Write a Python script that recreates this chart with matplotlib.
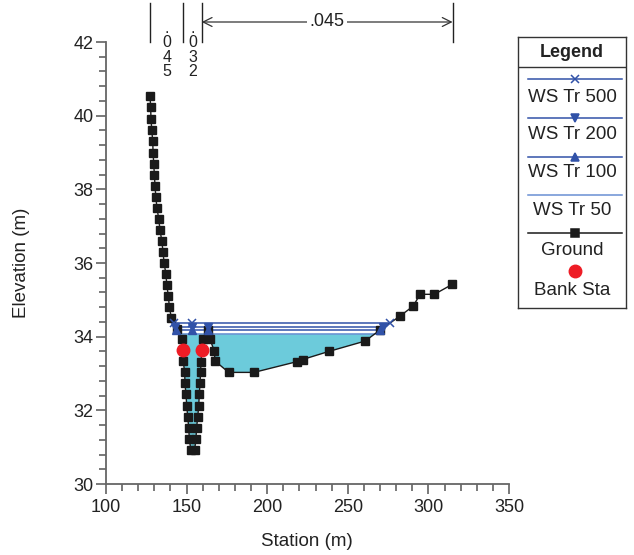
import numpy as np
import matplotlib
matplotlib.use('Agg')
import matplotlib.pyplot as plt
from matplotlib.ticker import MultipleLocator
import matplotlib.transforms as mtransforms

plt.rcParams['font.family'] = ['Liberation Sans', 'DejaVu Sans']

# ground profile (station m, elevation m)
ground_sta = [127.3, 127.7, 127.9, 128.4, 129.0, 129.2, 129.6, 130.0, 130.4, 130.9,
              131.6, 132.7, 133.5, 134.6, 135.4, 136.0, 137.2, 137.7, 138.7, 139.3,
              140.6, 143.9, 147.0, 147.9, 148.8, 149.0, 149.6, 150.1, 150.7, 151.3,
              151.7, 152.6, 155.0, 155.8, 156.2, 156.9, 157.5, 157.9, 158.3, 158.7,
              158.9, 160.4, 163.1, 164.5, 167.2, 167.6, 176.1, 191.8, 218.3, 222.0,
              238.3, 260.7, 270.0, 282.4, 290.6, 294.8, 303.7, 314.8]
ground_elev = [40.54, 40.23, 39.92, 39.60, 39.30, 39.00, 38.70, 38.40, 38.10, 37.80,
               37.50, 37.20, 36.90, 36.60, 36.30, 36.00, 35.70, 35.40, 35.10, 34.80,
               34.50, 34.20, 33.93, 33.34, 33.03, 32.73, 32.44, 32.12, 31.82, 31.53,
               31.22, 30.93, 30.93, 31.22, 31.53, 31.82, 32.12, 32.44, 32.73, 33.03,
               33.32, 33.93, 34.18, 33.93, 33.61, 33.34, 33.03, 33.03, 33.32, 33.38,
               33.60, 33.88, 34.18, 34.56, 34.83, 35.15, 35.15, 35.42]

# bank stations
bank_sta = [147.9, 159.5]
bank_elev = [33.63, 33.63]

# water surfaces
ws500 = 34.37
ws200 = 34.27
ws100 = 34.19
ws50 = 34.08
ws500_mark_sta = [142.0, 153.4, 276.0]
ws200_mark_sta = [142.6, 153.4, 163.1, 271.6]
ws100_mark_sta = [143.7, 153.4, 163.1, 270.1]

# manning n regions
n_bounds = [127.6, 147.9, 159.4, 315.0]
n_values = ['.045', '.032', '.045']

sta = np.array(ground_sta)
elev = np.array(ground_elev)


def ws_extent(ws):
    # first / last crossing of the water surface with the ground
    i = np.argmax(elev < ws)
    j = len(elev) - 1 - np.argmax(elev[::-1] < ws)
    x0 = np.interp(ws, [elev[i], elev[i - 1]], [sta[i], sta[i - 1]])
    x1 = np.interp(ws, [elev[j], elev[j + 1]], [sta[j], sta[j + 1]])
    return x0, x1


fig = plt.figure(figsize=(6.34, 5.55), dpi=100)
ax = fig.add_axes([106 / 634, 1 - 484 / 555, 403 / 634, 442 / 555])

blue = '#3152a8'
blue_light = '#6a8fd3'
cyan = '#6ccbdb'
txt = '#222222'

# fill under lowest water surface
x_fine = np.linspace(sta[0], sta[-1], 4000)
g_fine = np.interp(x_fine, sta, elev)
ax.fill_between(x_fine, g_fine, ws50, where=g_fine < ws50, color=cyan, lw=0, zorder=1)

for ws, col in [(ws500, blue), (ws200, blue), (ws100, blue), (ws50, blue_light)]:
    x0, x1 = ws_extent(ws)
    ax.plot([x0, x1], [ws, ws], color=col, lw=1.1, zorder=2)

ax.plot(ws500_mark_sta, [ws500] * len(ws500_mark_sta), ls='none', marker='x',
        color=blue, ms=6, mew=1.1, zorder=4)
ax.plot(ws200_mark_sta, [ws200] * len(ws200_mark_sta), ls='none', marker='v',
        color=blue, ms=6, zorder=4)
ax.plot(ws100_mark_sta, [ws100] * len(ws100_mark_sta), ls='none', marker='^',
        color=blue, ms=6, zorder=4)

ax.plot(sta, elev, color='#1a1a1a', lw=1, marker='s', ms=5.5, zorder=3)
ax.plot(bank_sta, bank_elev, ls='none', marker='o', color='#ee1c25', ms=9, zorder=5)

ax.set_xlim(100, 350)
ax.set_ylim(30, 42)
ax.xaxis.set_major_locator(MultipleLocator(50))
ax.xaxis.set_minor_locator(MultipleLocator(10))
ax.yaxis.set_major_locator(MultipleLocator(2))
ax.yaxis.set_minor_locator(MultipleLocator(0.4))
ax.tick_params(which='major', direction='out', length=7, width=1.1, color='#555555',
               labelsize=13, labelcolor=txt)
ax.tick_params(axis='y', which='major', pad=2)
ax.tick_params(axis='x', which='major', pad=4)
ax.tick_params(which='minor', direction='out', length=5, width=1.1, color='#555555')
for s in ['top', 'right']:
    ax.spines[s].set_visible(False)
for s in ['left', 'bottom']:
    ax.spines[s].set_color('#666666')
    ax.spines[s].set_linewidth(1.3)

fig.text(22 / 634, 1 - 263 / 555, 'Elevation (m)', rotation=90, ha='center',
         va='center', fontsize=13.5, color=txt)
fig.text(307 / 634, 1 - 542 / 555, 'Station (m)', ha='center', va='center',
         fontsize=13.5, color=txt)

# manning n annotations above the plot
trans = mtransforms.blended_transform_factory(ax.transData, ax.transAxes)


def ay(py):
    return (484 - py) / 442


for b in n_bounds:
    ax.plot([b, b], [1.0, ay(3)], transform=trans, color=txt, lw=1, clip_on=False)
for k in range(2):
    mid = (n_bounds[k] + n_bounds[k + 1]) / 2
    ax.text(mid, ay(21), '\n'.join(n_values[k]), transform=trans, ha='center', va='top',
            fontsize=11.5, linespacing=0.95, color=txt, clip_on=False)
ax.annotate('', xy=(n_bounds[2], ay(22)), xytext=(n_bounds[3], ay(22)),
            xycoords=trans, textcoords=trans,
            arrowprops=dict(arrowstyle='<->', color='#333333', lw=0.9,
                            shrinkA=0, shrinkB=0, mutation_scale=16))
ax.text((n_bounds[2] + n_bounds[3]) / 2, ay(22), n_values[2], transform=trans,
        ha='center', va='center', fontsize=13, color=txt,
        bbox=dict(facecolor='white', edgecolor='none', pad=2))

# legend box
lg = fig.add_axes([518.3 / 634, 1 - 308 / 555, 107.4 / 634, 271.3 / 555])
lg.set_xlim(518.3, 625.7)
lg.set_ylim(308, 36.7)
lg.set_xticks([])
lg.set_yticks([])
for s in lg.spines.values():
    s.set_color('#333333')
    s.set_linewidth(1)
cx = 572
lg.text(cx, 52, 'Legend', ha='center', va='center', fontsize=13, fontweight='bold',
        color=txt)
lg.plot([518.3, 625.7], [67.3, 67.3], color='#333333', lw=1)

entries = [('WS Tr 500', blue, 'x', 79.3, 97.3),
           ('WS Tr 200', blue, 'v', 117.7, 134.3),
           ('WS Tr 100', blue, '^', 156.7, 172.3),
           ('WS Tr 50', blue_light, None, 195.0, 210.7),
           ('Ground', '#1a1a1a', 's', 233.3, 250.0)]
for label, col, mk, ly, ty in entries:
    lg.plot([528, 622], [ly, ly], color=col, lw=1.1)
    if mk is not None:
        lg.plot([575], [ly], marker=mk, color=col, ms=5.5, mew=1.1)
    lg.text(cx, ty, label, ha='center', va='center', fontsize=13.5, color=txt)
lg.plot([575], [271], marker='o', color='#ee1c25', ms=9, ls='none')
lg.text(cx, 290, 'Bank Sta', ha='center', va='center', fontsize=13.5, color=txt)

fig.savefig('out.png', dpi=100)
